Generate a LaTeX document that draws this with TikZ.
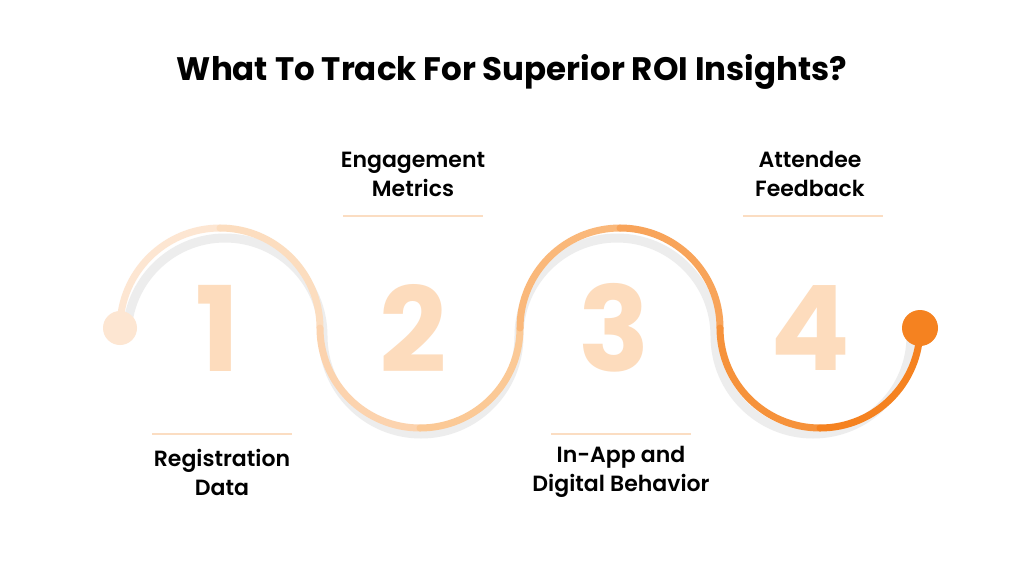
\documentclass[tikz,border=0pt]{standalone}
\usepackage{fontspec}
\setmainfont{Poppins}
\newfontfamily\popb{Poppins}[UprightFont=* Bold]
\newfontfamily\pops{Poppins}[UprightFont=* SemiBold]
\begin{document}
\begin{tikzpicture}[x=1pt,y=-1pt,
  lbl/.style={font=\pops\fontsize{22}{29}\selectfont,align=center,text=black},
  num/.style={font=\popb\fontsize{118}{118}\selectfont,text=peachnum},
  rule/.style={draw=peachline,line width=1.2pt},
  wave/.style={line width=7pt,line cap=round}]
\definecolor{peachnum}{HTML}{FDDCBD}
\definecolor{peachline}{HTML}{FBDDC2}
\definecolor{c1}{HTML}{FDE6D2}\definecolor{c2}{HTML}{FCDDBF}
\definecolor{c3}{HTML}{FCD3AE}\definecolor{c4}{HTML}{FBC996}
\definecolor{c5}{HTML}{FAB87A}\definecolor{c6}{HTML}{F8A45A}
\definecolor{c7}{HTML}{F6923B}\definecolor{c8}{HTML}{F58220}
\useasboundingbox (0,0) rectangle (1024,576);
\fill[white] (0,0) rectangle (1024,576);
\node[font=\popb\fontsize{32.5}{36}\selectfont] (title) at (512,72) {What To Track For Superior ROI Insights?};
\node[num] (n1) at (218,328) {1};
\node[num] (n2) at (413,328) {2};
\node[num] (n3) at (614,328) {3};
\node[num] (n4) at (810,328) {4};
% shadow
\draw[line width=9pt,black!7] (127,336) arc(180:360:98) arc(180:0:98) arc(180:360:98) arc(180:0:98);
% wave
\coordinate (s) at (120,328);
\draw[wave,c1] (120,328) arc(180:270:100);
\draw[wave,c2] (220,228) arc(270:360:100);
\draw[wave,c3] (320,328) arc(180:90:100);
\draw[wave,c4] (420,428) arc(90:0:100);
\draw[wave,c5] (520,328) arc(180:270:100);
\draw[wave,c6] (620,228) arc(270:360:100);
\draw[wave,c7] (720,328) arc(180:90:100);
\draw[wave,c8] (820,428) arc(90:0:100);
\fill[c1] (s) circle(17);
\node[circle,fill=c8,minimum size=36pt,inner sep=0] (e) at (920,328) {};
% labels
\draw[rule] (343,216) -- (483,216);
\node[lbl] (l2) at (413,174) {Engagement\\Metrics};
\draw[rule] (743,216) -- (883,216);
\node[lbl] (l4) at (810,174) {Attendee\\Feedback};
\draw[rule] (152,434) -- (292,434);
\node[lbl] (l1) at (222,472) {Registration\\Data};
\draw[rule] (551,434) -- (691,434);
\node[lbl] (l3) at (621,472) {In-App and\\Digital Behavior};
\end{tikzpicture}
\end{document}
